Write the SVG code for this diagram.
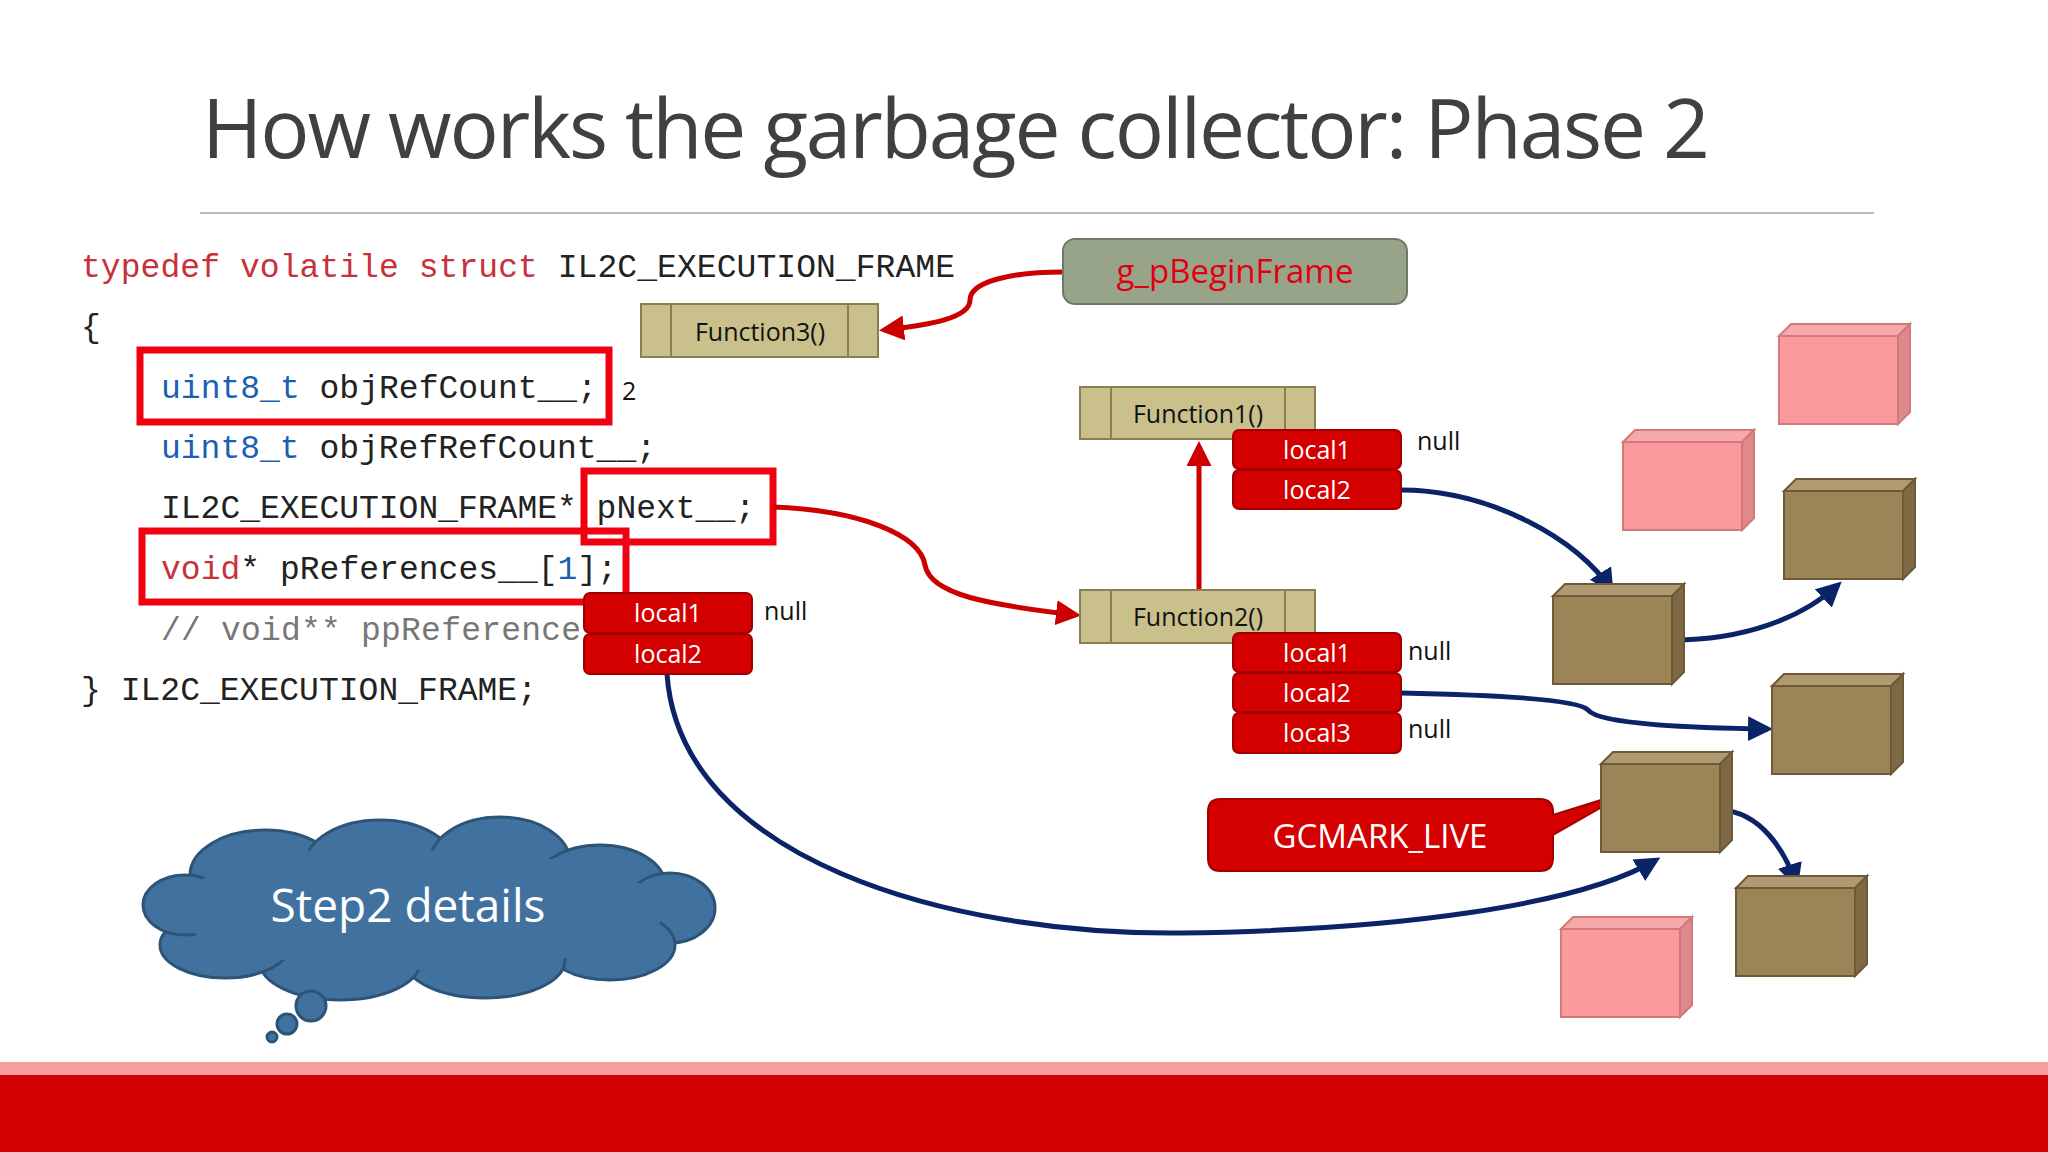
<svg xmlns="http://www.w3.org/2000/svg" width="2048" height="1152" viewBox="0 0 2048 1152">
<defs>
<style>
.code{font-family:"Liberation Mono","DejaVu Sans Mono",monospace;font-size:33px;fill:#222}
.kw{fill:#c8303a}.ty{fill:#1a5fb4}.cm{fill:#777}
.sans{font-family:"Open Sans","Noto Sans",sans-serif}
.fn{fill:#c9c08c;stroke:#8a7f50;stroke-width:2}
.loc{fill:#d40000;stroke:#a00000;stroke-width:2}
.lt{font-family:"Open Sans","Noto Sans",sans-serif;font-size:25px;fill:#fff;text-anchor:middle}
.nl{font-family:"Open Sans","Noto Sans",sans-serif;font-size:25px;fill:#111}
.hl{fill:none;stroke:#f00010;stroke-width:7}
.red{fill:none;stroke:#cc0000;stroke-width:5}
.blue{fill:none;stroke:#0b2468;stroke-width:5}
.cl{fill:#41729f;stroke:#2c5478;stroke-width:3}
</style>
<marker id="ar" viewBox="0 0 10 10" refX="8" refY="5" markerWidth="5" markerHeight="5" orient="auto" markerUnits="strokeWidth"><path d="M0,0L10,5L0,10z" fill="#cc0000"/></marker>
<marker id="ab" viewBox="0 0 10 10" refX="8" refY="5" markerWidth="5" markerHeight="5" orient="auto" markerUnits="strokeWidth"><path d="M0,0L10,5L0,10z" fill="#0b2468"/></marker>
<g id="brown"><path d="M0,12 L12,0 L131,0 L119,12 Z" fill="#b09a72" stroke="#6e5a38" stroke-width="2"/><path d="M119,12 L131,0 L131,88 L119,100 Z" fill="#7d6a45" stroke="#6e5a38" stroke-width="2"/><rect x="0" y="12" width="119" height="88" fill="#9b8556" stroke="#6e5a38" stroke-width="2"/></g>
<g id="pink"><path d="M0,12 L12,0 L131,0 L119,12 Z" fill="#f6a9aa" stroke="#d07a7c" stroke-width="2"/><path d="M119,12 L131,0 L131,88 L119,100 Z" fill="#e0888b" stroke="#d07a7c" stroke-width="2"/><rect x="0" y="12" width="119" height="88" fill="#fb9a9c" stroke="#d07a7c" stroke-width="2"/></g>
</defs>
<rect width="2048" height="1152" fill="#fff"/>
<text x="202" y="158" class="sans" font-size="82" fill="#404040" textLength="1508">How works the garbage collector: Phase 2</text>
<line x1="200" y1="213" x2="1874" y2="213" stroke="#bbb" stroke-width="2"/>
<rect x="0" y="1062" width="2048" height="14" fill="#f4a0a0"/>
<rect x="0" y="1075" width="2048" height="77" fill="#d20000"/>

<g id="code">
<text x="81" y="277" class="code" textLength="874"><tspan class="kw">typedef volatile struct</tspan> IL2C_EXECUTION_FRAME</text>
<text x="81" y="337" class="code">{</text>
<text x="161" y="398" class="code" textLength="436"><tspan class="ty">uint8_t</tspan> objRefCount__;</text>
<text x="161" y="458" class="code" textLength="495"><tspan class="ty">uint8_t</tspan> objRefRefCount__;</text>
<text x="161" y="518" class="code" textLength="594">IL2C_EXECUTION_FRAME* pNext__;</text>
<text x="161" y="579" class="code" textLength="456"><tspan class="kw">void</tspan>* pReferences__[<tspan class="ty">1</tspan>];</text>
<text x="161" y="640" class="code cm" textLength="420">// void** ppReference</text>
<text x="81" y="700" class="code" textLength="456">} IL2C_EXECUTION_FRAME;</text>
<rect x="140" y="350" width="469" height="72" class="hl"/>
<rect x="584" y="471" width="189" height="71" class="hl"/>
<rect x="142" y="531" width="484" height="71" class="hl"/>
<text x="622" y="400" class="nl" font-size="22">2</text>
</g>

<g id="connectors">
<path d="M1063,272 C1010,272 970,282 970,300 C970,318 930,325 884,330" class="red" marker-end="url(#ar)"/>
<path d="M773,507 C860,510 920,535 925,565 C930,595 990,605 1076,615" class="red" marker-end="url(#ar)"/>
<path d="M1199,590 L1199,446" class="red" marker-end="url(#ar)"/>
<path d="M1401,490 C1490,490 1580,540 1611,590" class="blue" marker-end="url(#ab)"/>
<path d="M1674,640 C1740,640 1800,620 1838,585" class="blue" marker-end="url(#ab)"/>
<path d="M1401,693 C1500,695 1580,700 1588,710 C1600,725 1700,728 1768,729" class="blue" marker-end="url(#ab)"/>
<path d="M1721,810 C1760,812 1785,850 1796,884" class="blue" marker-end="url(#ab)"/>
<path d="M667,674 C680,860 950,935 1180,933 C1400,930 1580,905 1656,860" class="blue" marker-end="url(#ab)"/>
</g>

<g id="g_pBeginFrame"><rect x="1063" y="239" width="344" height="65" rx="12" fill="#98a48a" stroke="#6f7a66" stroke-width="2"/><text x="1235" y="283" class="sans" font-size="33" fill="#e00010" text-anchor="middle">g_pBeginFrame</text></g>

<g id="function3"><rect x="641" y="304" width="237" height="53" class="fn"/><line x1="671" y1="304" x2="671" y2="357" stroke="#8a7f50" stroke-width="2"/><line x1="848" y1="304" x2="848" y2="357" stroke="#8a7f50" stroke-width="2"/><text x="760" y="341" class="sans" font-size="25" fill="#111" text-anchor="middle">Function3()</text></g>

<g id="function1"><rect x="1080" y="387" width="235" height="52" class="fn"/><line x1="1111" y1="387" x2="1111" y2="439" stroke="#8a7f50" stroke-width="2"/><line x1="1285" y1="387" x2="1285" y2="439" stroke="#8a7f50" stroke-width="2"/><text x="1198" y="423" class="sans" font-size="25" fill="#111" text-anchor="middle">Function1()</text></g>

<g id="function2"><rect x="1080" y="590" width="235" height="53" class="fn"/><line x1="1111" y1="590" x2="1111" y2="643" stroke="#8a7f50" stroke-width="2"/><line x1="1285" y1="590" x2="1285" y2="643" stroke="#8a7f50" stroke-width="2"/><text x="1198" y="626" class="sans" font-size="25" fill="#111" text-anchor="middle">Function2()</text></g>

<g id="f1locals">
<rect x="1233" y="430" width="168" height="39" rx="6" class="loc"/><text x="1317" y="459" class="lt">local1</text>
<rect x="1233" y="470" width="168" height="39" rx="6" class="loc"/><text x="1317" y="499" class="lt">local2</text>
<text x="1417" y="450" class="nl">null</text>
</g>
<g id="f2locals">
<rect x="1233" y="633" width="168" height="39" rx="6" class="loc"/><text x="1317" y="662" class="lt">local1</text>
<rect x="1233" y="673" width="168" height="39" rx="6" class="loc"/><text x="1317" y="702" class="lt">local2</text>
<rect x="1233" y="713" width="168" height="40" rx="6" class="loc"/><text x="1317" y="742" class="lt">local3</text>
<text x="1408" y="660" class="nl">null</text>
<text x="1408" y="738" class="nl">null</text>
</g>
<g id="f3locals">
<rect x="584" y="593" width="168" height="40" rx="6" class="loc"/><text x="668" y="622" class="lt">local1</text>
<rect x="584" y="634" width="168" height="40" rx="6" class="loc"/><text x="668" y="663" class="lt">local2</text>
<text x="764" y="620" class="nl">null</text>
</g>

<g id="gcmark">
<path d="M1220,799 L1540,799 Q1553,799 1553,812 L1553,815 L1630,791 L1553,835 L1553,858 Q1553,871 1540,871 L1220,871 Q1208,871 1208,858 L1208,812 Q1208,799 1220,799 Z" fill="#d40000" stroke="#a00000" stroke-width="2"/>
<text x="1380" y="848" class="sans" font-size="33" fill="#fff" text-anchor="middle">GCMARK_LIVE</text>
</g>

<g id="cubes">
<use href="#pink" x="1779" y="324"/>
<use href="#pink" x="1623" y="430"/>
<use href="#pink" x="1561" y="917"/>
<use href="#brown" x="1553" y="584"/>
<use href="#brown" x="1784" y="479"/>
<use href="#brown" x="1772" y="674"/>
<use href="#brown" x="1601" y="752"/>
<use href="#brown" x="1736" y="876"/>
</g>

<g id="cloud">
<ellipse cx="265" cy="875" rx="75" ry="45" class="cl"/>
<ellipse cx="380" cy="865" rx="75" ry="45" class="cl"/>
<ellipse cx="500" cy="862" rx="70" ry="45" class="cl"/>
<ellipse cx="600" cy="885" rx="65" ry="40" class="cl"/>
<ellipse cx="670" cy="908" rx="45" ry="35" class="cl"/>
<ellipse cx="610" cy="945" rx="65" ry="35" class="cl"/>
<ellipse cx="485" cy="960" rx="80" ry="38" class="cl"/>
<ellipse cx="340" cy="962" rx="80" ry="38" class="cl"/>
<ellipse cx="225" cy="945" rx="65" ry="33" class="cl"/>
<ellipse cx="185" cy="905" rx="42" ry="30" class="cl"/>
<ellipse cx="420" cy="910" rx="245" ry="60" fill="#41729f"/>
<ellipse cx="300" cy="905" rx="110" ry="55" fill="#41729f"/>
<text x="408" y="922" class="sans" font-size="46" fill="#fff" text-anchor="middle">Step2 details</text>
<circle cx="311" cy="1006" r="15" class="cl"/>
<circle cx="287" cy="1024" r="10" class="cl"/>
<circle cx="272" cy="1037" r="5" class="cl"/>
</g>
</svg>
